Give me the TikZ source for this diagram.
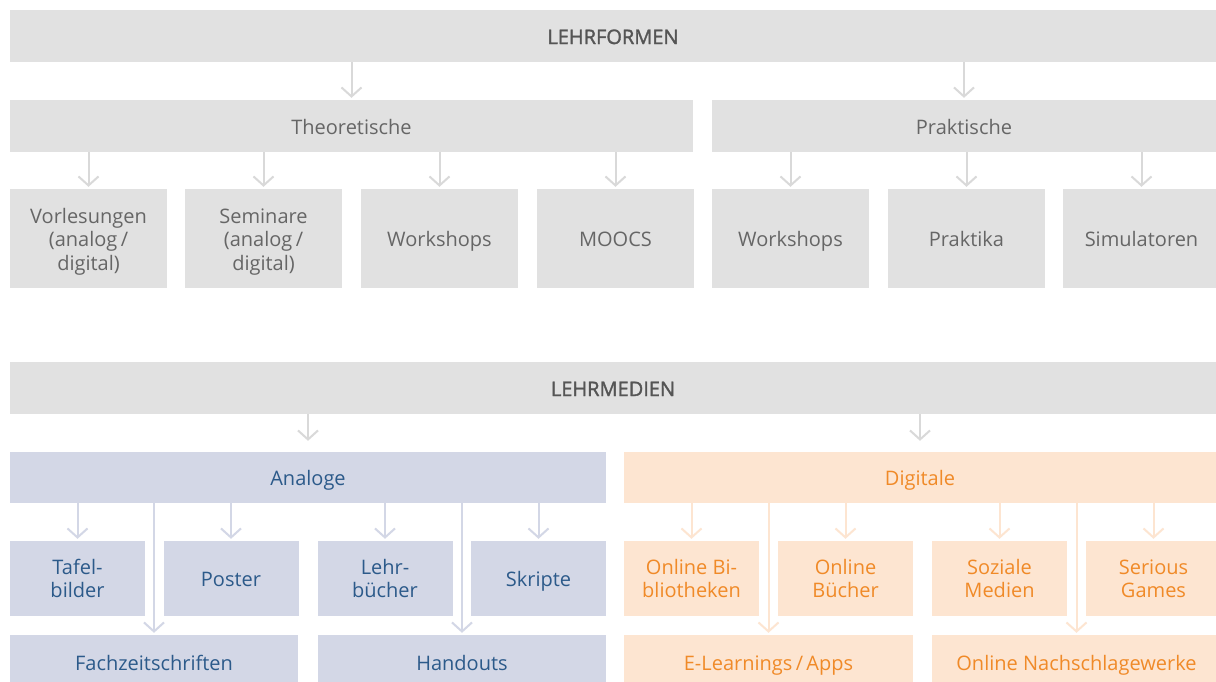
\documentclass[tikz,border=0pt]{standalone}
\usepackage{fontspec}
\setmainfont{Open Sans}
\newfontfamily\semibold{Open Sans}[FakeBold=1.6]
\usetikzlibrary{arrows.meta}
\definecolor{gfill}{HTML}{E1E1E1}
\definecolor{garrow}{HTML}{D9D9D9}
\definecolor{gtext}{HTML}{666666}
\definecolor{gtitle}{HTML}{555555}
\definecolor{bfill}{HTML}{D3D7E6}
\definecolor{btext}{HTML}{2C5A8A}
\definecolor{ofill}{HTML}{FDE5D1}
\definecolor{otext}{HTML}{F08A28}
% taller first line: pushes a three-line label a little lower in its box
\newcommand\topstrut{\rule{0pt}{21pt}}
\tikzset{
  box/.style={inner sep=0pt, align=center, font=\fontsize{20}{23.5}\selectfont},
  oneline/.style={text height=16pt, text depth=0pt},
  gbox/.style={box, fill=gfill, text=gtext},
  title/.style={gbox, oneline, text=gtitle, font=\fontsize{20}{23}\selectfont\semibold},
  bbox/.style={box, fill=bfill, text=btext},
  obox/.style={box, fill=ofill, text=otext},
  link/.style={line width=2pt, -{Straight Barb[length=9pt,width=20pt,line width=2pt]}, shorten >=2pt},
  glink/.style={link, draw=garrow},
  blink/.style={link, draw=bfill},
  olink/.style={link, draw=ofill},
}
\begin{document}
\begin{tikzpicture}[x=1pt,y=-1pt]
\clip (0,0) rectangle (1216,681);
\fill[white] (0,0) rectangle (1216,681);

% Lehrformen
\node[title, minimum width=1206pt, minimum height=52pt] (lf) at (613,36) {LEHRFORMEN};
\node[gbox, oneline, minimum width=683pt, minimum height=52pt] (th) at (351.5,126) {Theoretische};
\node[gbox, oneline, minimum width=504pt, minimum height=52pt] (pr) at (964,126) {Praktische};

\node[gbox, minimum width=157pt, minimum height=99pt] (vl) at (88.5,238.5)
  {\topstrut Vorlesungen\\(analog\,/\\digital)};
\node[gbox, minimum width=157pt, minimum height=99pt] (se) at (263.5,238.5)
  {\topstrut Seminare\\(analog\,/\\digital)};
\node[gbox, oneline, minimum width=157pt, minimum height=99pt] (wt) at (439.5,238.5) {Workshops};
\node[gbox, oneline, minimum width=157pt, minimum height=99pt] (mo) at (615.5,238.5) {MOOCS};
\node[gbox, oneline, minimum width=157pt, minimum height=99pt] (wp) at (790.5,238.5) {Workshops};
\node[gbox, oneline, minimum width=157pt, minimum height=99pt] (pk) at (966.5,238.5) {Praktika};
\node[gbox, oneline, minimum width=157pt, minimum height=99pt] (si) at (1141.5,238.5) {Simulatoren};

\draw[glink] (lf.south -| th.north) -- (th.north);
\draw[glink] (lf.south -| pr.north) -- (pr.north);
\foreach \c in {vl,se,wt,mo} \draw[glink] (th.south -| \c.north) -- (\c.north);
\foreach \c in {wp,pk,si} \draw[glink] (pr.south -| \c.north) -- (\c.north);

% Lehrmedien
\node[title, minimum width=1206pt, minimum height=52pt] (lm) at (613,388) {LEHRMEDIEN};
\node[bbox, oneline, minimum width=596pt, minimum height=51pt] (an) at (308,477.5) {Analoge};
\node[obox, oneline, minimum width=592pt, minimum height=51pt] (di) at (920,477.5) {Digitale};

\node[bbox, minimum width=135pt, minimum height=75pt] (tb) at (77.5,578.5) {Tafel-\\bilder};
\node[bbox, oneline, minimum width=135pt, minimum height=75pt] (po) at (231,578.5) {Poster};
\node[bbox, minimum width=135pt, minimum height=75pt] (lb) at (385,578.5) {Lehr-\\bücher};
\node[bbox, oneline, minimum width=135pt, minimum height=75pt] (sk) at (538.5,578.5) {Skripte};
\node[bbox, oneline, minimum width=288pt, minimum height=54pt] (fz) at (154,662) {Fachzeitschriften};
\node[bbox, oneline, minimum width=288pt, minimum height=54pt] (ho) at (462,662) {Handouts};

\node[obox, minimum width=135pt, minimum height=75pt] (ob) at (691.5,578.5) {Online Bi-\\bliotheken};
\node[obox, minimum width=135pt, minimum height=75pt] (oc) at (845.5,578.5) {Online\\Bücher};
\node[obox, minimum width=135pt, minimum height=75pt] (sm) at (999.5,578.5) {Soziale\\Medien};
\node[obox, minimum width=135pt, minimum height=75pt] (sg) at (1153.5,578.5) {Serious\\Games};
\node[obox, oneline, minimum width=289pt, minimum height=54pt] (el) at (768.5,662) {E-Learnings\,/\,Apps};
\node[obox, oneline, minimum width=289pt, minimum height=54pt] (on) at (1076.5,662) {Online Nachschlagewerke};

\draw[glink, shorten >=11pt] (lm.south -| an.north) -- (an.north);
\draw[glink, shorten >=11pt] (lm.south -| di.north) -- (di.north);
\foreach \c in {tb,po,lb,sk,fz,ho} \draw[blink] (an.south -| \c.north) -- (\c.north);
\foreach \c in {ob,oc,sm,sg,el,on} \draw[olink] (di.south -| \c.north) -- (\c.north);
\end{tikzpicture}
\end{document}
